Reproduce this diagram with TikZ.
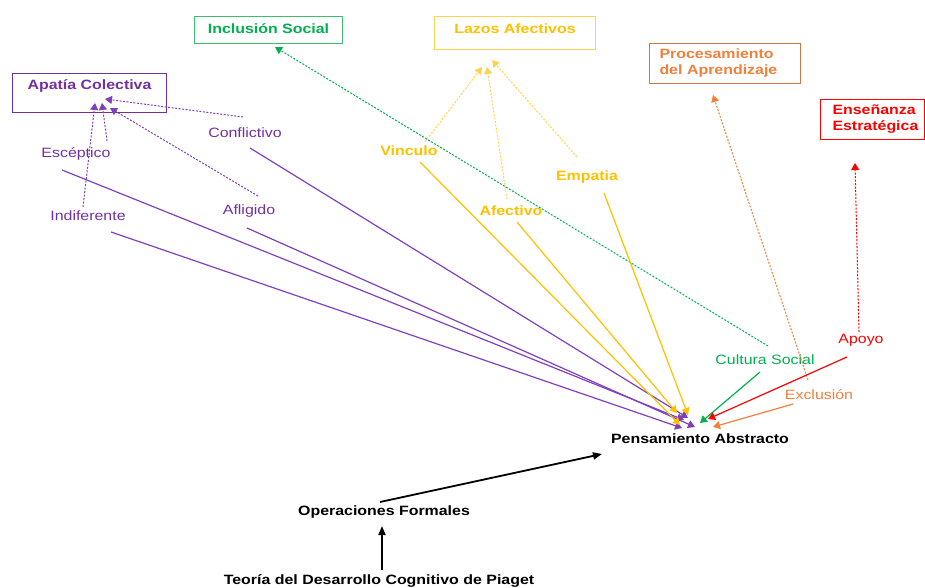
\documentclass[tikz,border=0pt]{standalone}
\usepackage{fontspec}
\setmainfont{Liberation Sans}[FakeStretch=1.18]
\usetikzlibrary{arrows.meta}
\definecolor{purp}{RGB}{112,48,160}
\definecolor{purpl}{RGB}{128,64,190}
\definecolor{amber}{RGB}{255,192,0}
\definecolor{amberl}{RGB}{255,210,80}
\definecolor{grn}{RGB}{0,176,80}
\definecolor{grnl}{RGB}{60,190,110}
\definecolor{orng}{RGB}{240,128,60}
\definecolor{orngd}{RGB}{205,120,60}
\definecolor{rd}{RGB}{255,0,0}
\begin{document}
\begin{tikzpicture}[x=1pt,y=-1pt,
  every node/.style={font=\fontsize{13.5}{16}\selectfont, inner sep=0pt},
  boxn/.style={draw, line width=1pt, anchor=north west, inner ysep=3pt, font=\fontsize{13.5}{16}\selectfont\bfseries},
  sol/.style={line width=1.2pt, -{Triangle[length=7pt,width=8pt]}},
  dsh/.style={line width=1pt, dash pattern=on 2pt off 1.5pt, -{Triangle[length=7pt,width=8pt]}},
  blk/.style={line width=1.8pt, -{Triangle[length=9pt,width=7pt]}},
]
\useasboundingbox (0,0) rectangle (925,588);

% boxes
\node[boxn, draw=purp, text=purp, minimum width=154pt, inner xsep=0pt, text height=13pt, text depth=20pt] (apat) at (12,73) {Apatía Colectiva};
\node[boxn, draw=grnl, text=grn, minimum width=148pt, inner xsep=0pt, text height=14pt, text depth=7pt] (incl) at (194,16) {Inclusión Social};
\node[boxn, draw=amberl, text=amber, minimum width=161pt, inner xsep=0pt, text height=14pt, text depth=13pt] (lazos) at (434,16) {Lazos Afectivos};
\node[boxn, draw=orngd, text=orng, minimum width=151pt, minimum height=40pt, inner xsep=10pt, text width=131pt, align=left] (proc) at (649,43) {Procesamiento\\del Aprendizaje};
\node[boxn, draw=rd, text=rd, minimum width=104pt, minimum height=40pt, inner xsep=12pt, text width=80pt, align=left] (ense) at (820,99) {Enseñanza\\Estratégica};

% labels
\node[text=purp] (conf) at (245,133) {Conflictivo};
\node[text=purp] (escep) at (76,154) {Escéptico};
\node[text=purp] (indif) at (88,216) {Indiferente};
\node[text=purp] (aflig) at (249,211) {Afligido};
\node[text=amber, font=\fontsize{13.5}{16}\selectfont\bfseries] (vinc) at (409,151) {Vinculo};
\node[text=amber, font=\fontsize{13.5}{16}\selectfont\bfseries] (afect) at (511,211) {Afectivo};
\node[text=amber, font=\fontsize{13.5}{16}\selectfont\bfseries] (empat) at (587,177) {Empatia};
\node[text=grn] (cult) at (765,360) {Cultura Social};
\node[text=rd] (apoyo) at (861,340) {Apoyo};
\node[text=orng] (excl) at (819,395) {Exclusión};
\node[font=\fontsize{13.5}{16}\selectfont\bfseries] (pens) at (700,439) {Pensamiento Abstracto};
\node[font=\fontsize{13.5}{16}\selectfont\bfseries] (oper) at (384,512) {Operaciones Formales};
\node[font=\fontsize{13.5}{16}\selectfont\bfseries] (teor) at (379,581) {Teoría del Desarrollo Cognitivo de Piaget};

% connector end points
\coordinate (confD) at (243,117); \coordinate (confS) at (250,148);
\coordinate (escD) at (107,141);  \coordinate (escS) at (62,170);
\coordinate (indD) at (83,207);   \coordinate (indS) at (111,232);
\coordinate (aflD) at (258,196);  \coordinate (aflS) at (247,228);
\coordinate (vinD) at (425,142);  \coordinate (vinS) at (420,162);
\coordinate (afeD) at (507,199);  \coordinate (afeS) at (517,222);
\coordinate (empD) at (577,157);  \coordinate (empS) at (604,193);
\coordinate (culD) at (768,346);  \coordinate (culS) at (760,372);
\coordinate (apoD) at (859,332);  \coordinate (apoS) at (847,357);
\coordinate (excD) at (808,380);  \coordinate (excS) at (793,404);
\coordinate (operS) at (380,502); \coordinate (teorS) at (382,570);

\coordinate (tA1) at (105,99);  \coordinate (tA2) at (102,103);
\coordinate (tA3) at (95,103);  \coordinate (tA4) at (110,108);
\coordinate (tL1) at (482,67);  \coordinate (tL2) at (487,67);
\coordinate (tL3) at (492,60);  \coordinate (tI) at (275,47);
\coordinate (tP) at (713,95);   \coordinate (tE) at (855,163);
\coordinate (pConf) at (688,418); \coordinate (pEsc) at (684,420);
\coordinate (pAfl) at (695,427);  \coordinate (pInd) at (682,428);
\coordinate (pVin) at (680,425);  \coordinate (pAfe) at (677,413);
\coordinate (pEmp) at (688,415);  \coordinate (pCul) at (700,423);
\coordinate (pApo) at (708,419);  \coordinate (pExc) at (713,427);
\coordinate (pOp) at (602,454);   \coordinate (oT) at (382,526);

% dashed connectors to groups
\draw[dsh, purpl] (confD) -- (tA1);
\draw[dsh, purpl] (escD) -- (tA2);
\draw[dsh, purpl] (indD) -- (tA3);
\draw[dsh, purpl] (aflD) -- (tA4);
\draw[dsh, amberl] (vinD) -- (tL1);
\draw[dsh, amberl] (afeD) -- (tL2);
\draw[dsh, amberl] (empD) -- (tL3);
\draw[dsh, grn] (culD) -- (tI);
\draw[dsh, orng] (excD) -- (tP);
\draw[dsh, rd] (apoD) -- (tE);

% solid connectors to Pensamiento Abstracto
\draw[sol, purpl] (confS) -- (pConf);
\draw[sol, purpl] (escS) -- (pEsc);
\draw[sol, purpl] (aflS) -- (pAfl);
\draw[sol, purpl] (indS) -- (pInd);
\draw[sol, amber] (vinS) -- (pVin);
\draw[sol, amber] (afeS) -- (pAfe);
\draw[sol, amber] (empS) -- (pEmp);
\draw[sol, grn] (culS) -- (pCul);
\draw[sol, rd] (apoS) -- (pApo);
\draw[sol, orng] (excS) -- (pExc);

% black connectors
\draw[blk] (operS) -- (pOp);
\draw[blk] (teorS) -- (oT);
\end{tikzpicture}
\end{document}
